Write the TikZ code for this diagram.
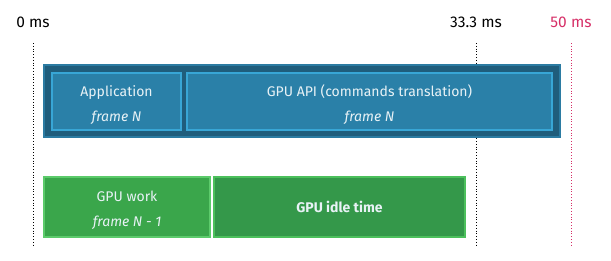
\documentclass[tikz,border=0pt]{standalone}
\usepackage{fontspec}
\setmainfont{Fira Sans}
\definecolor{cpuFill}{HTML}{1F5D7C}
\definecolor{cpuLine}{HTML}{2B7BA2}
\definecolor{apiFill}{HTML}{2A80A8}
\definecolor{apiLine}{HTML}{38A6D6}
\definecolor{workFill}{HTML}{3AA64B}
\definecolor{workLine}{HTML}{5CCB6B}
\definecolor{idleFill}{HTML}{34984A}
\definecolor{idleLine}{HTML}{4CC05C}
\definecolor{deadline}{HTML}{D62F67}
\definecolor{boxText}{HTML}{E8F2F6}
\newcommand{\toprow}{\rule{0pt}{17pt}}

\begin{document}
\begin{tikzpicture}[
  x=1pt, y=-1pt,
  tick/.style={dotted, thick, black},
  late/.style={dotted, thick, deadline},
  tlbl/.style={font=\fontsize{15.5}{17}\selectfont, inner sep=0pt},
  band/.style={draw=cpuLine, line width=2pt, fill=cpuFill, inner sep=0pt},
  cpublk/.style={draw=apiLine, line width=2pt, fill=apiFill, text=boxText, align=center,
                 font=\fontsize{14}{25}\selectfont, inner sep=0pt},
  gpublk/.style={cpublk, draw=workLine, fill=workFill},
  idleblk/.style={draw=idleLine, line width=2pt, fill=idleFill, text=boxText,
                  font=\fontsize{14}{25}\selectfont\bfseries, inner sep=0pt}
]
\useasboundingbox (0,0) rectangle (611,260);
% ---------------- time axis ----------------
\node[tlbl] (t0) at (33,22.5) {0 ms};
\node[tlbl] (t1) at (476,22.5) {33.3 ms};
\node[tlbl, text=deadline] (t2) at (571,22.5) {50 ms};
\coordinate (t0a) at (33,43);  \coordinate (t0b) at (33,245);
\coordinate (t1a) at (476,43); \coordinate (t1b) at (476,245);
\coordinate (t2a) at (571,43); \coordinate (t2b) at (571,245);
\draw[tick] (t0a) -- (t0b);
\draw[tick] (t1a) -- (t1b);
\draw[late] (t2a) -- (t2b);
% ---------------- CPU side ----------------
\node[band, minimum width=516, minimum height=72] (cpu) at (302,101) {};
\node[cpublk, minimum width=129, minimum height=57] (app) at (116.5,101.5)
  {\toprow Application\\\textit{frame N}};
\node[cpublk, minimum width=365, minimum height=57] (api) at (369.5,101.5)
  {\toprow GPU API (commands translation)\\\textit{frame N}};
% ---------------- GPU side ----------------
\node[gpublk, minimum width=166, minimum height=60] (work) at (127,207)
  {\toprow GPU work\\\textit{frame N - 1}};
\node[idleblk, minimum width=251, minimum height=60] (idle) at (339.5,207)
  {GPU idle time};
\end{tikzpicture}
\end{document}
